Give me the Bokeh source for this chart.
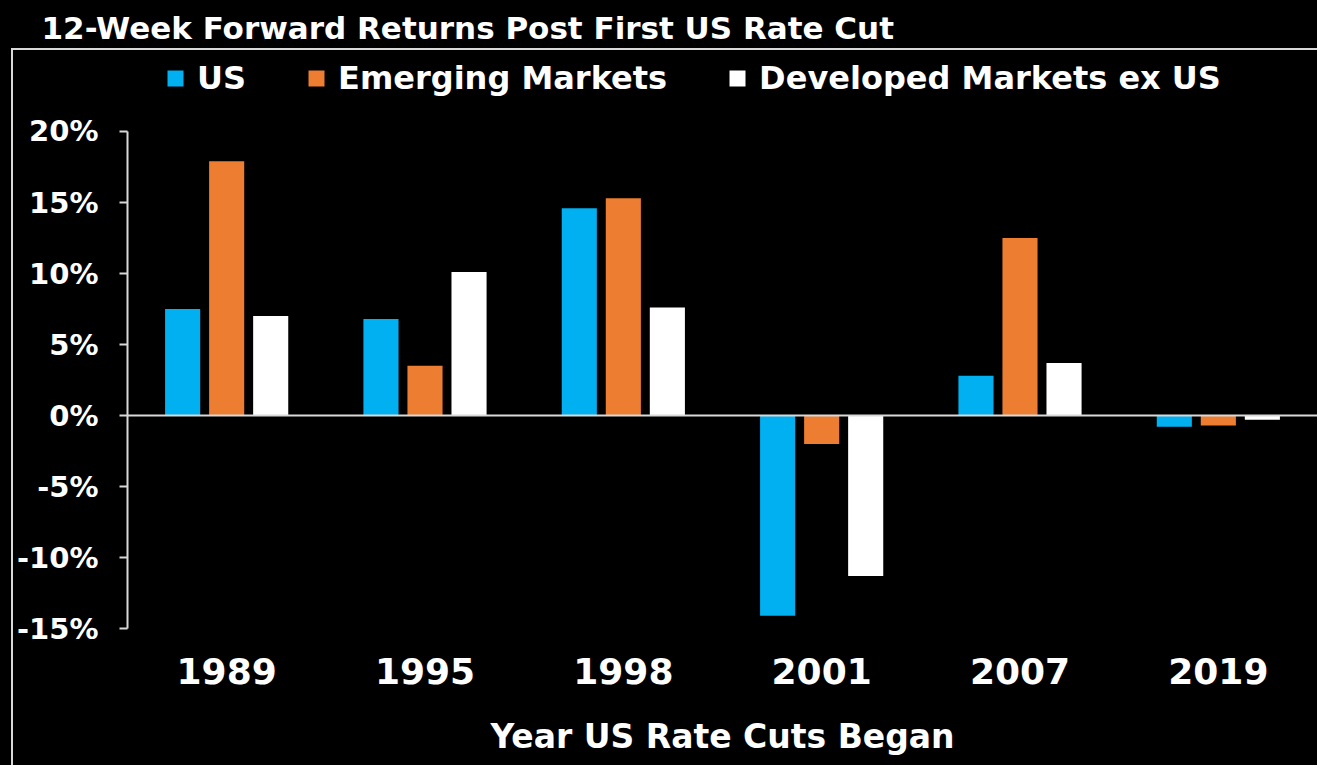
from bokeh.plotting import figure
from bokeh.models import (ColumnDataSource, FactorRange, Range1d, FixedTicker,
                          PrintfTickFormatter, Span, Legend, LegendItem)
from bokeh.transform import dodge
from bokeh.embed import file_html
from bokeh.resources import INLINE

# ---- data (percent returns, 12 weeks after first US rate cut) ----
years = ["1989", "1995", "1998", "2001", "2007", "2019"]
us_returns = [7.5, 6.8, 14.6, -14.1, 2.8, -0.8]
em_returns = [17.9, 3.5, 15.3, -2.0, 12.5, -0.7]
dm_returns = [7.0, 10.1, 7.6, -11.3, 3.7, -0.3]
series_names = ["US", "Emerging Markets", "Developed Markets ex US"]
y_ticks = [-15, -10, -5, 0, 5, 10, 15, 20]

FONT = "DejaVu Sans"
AXIS_GREY = "#d9d9d9"
colors = ["#00B0F0", "#ED7D31", "#FFFFFF"]

src = ColumnDataSource(dict(year=years, us=us_returns, em=em_returns, dm=dm_returns))

p = figure(
    x_range=FactorRange(*years, range_padding=0),
    y_range=Range1d(-15.563, 25.845),
    width=1317, height=765,
    output_backend="svg", toolbar_location=None,
    min_border_left=127, min_border_right=0,
    min_border_top=48, min_border_bottom=129,
    background_fill_alpha=0, border_fill_alpha=0,
    outline_line_color=None,
)

# outer frame lines (top + left), drawn behind the transparent canvas
p.styles = {
    "background-color": "#000000",
    "background-image": "linear-gradient(#d9d9d9, #d9d9d9), linear-gradient(#d9d9d9, #d9d9d9)",
    "background-size": "calc(100% - 11px) 2px, 2px calc(100% - 48px)",
    "background-position": "11px 48px, 11px 48px",
    "background-repeat": "no-repeat",
}

# title
p.title.text = "12-Week Forward Returns Post First US Rate Cut"
p.title.text_font = FONT
p.title.text_font_size = "31px"
p.title.text_font_style = "bold"
p.title.text_color = "#ffffff"
p.title.align = "left"
p.title.offset = -86
p.title.standoff = 6

# bars
offsets = [-0.222, 0.0, 0.222]
cols = ["us", "em", "dm"]
renderers = []
for off, col, c in zip(offsets, cols, colors):
    r = p.vbar(x=dodge("year", off, range=p.x_range), top=col, width=0.177,
               source=src, fill_color=c, line_color=None)
    renderers.append(r)

# zero line
p.add_layout(Span(location=0, dimension="width", line_color=AXIS_GREY, line_width=2))

# legend
legend = Legend(
    items=[LegendItem(label=n, renderers=[r]) for n, r in zip(series_names, renderers)],
    location=(38, 539), orientation="horizontal",
    glyph_width=20, glyph_height=20, label_standoff=12, spacing=60,
    padding=0, margin=0, border_line_color=None, background_fill_alpha=0,
    label_text_font=FONT, label_text_font_size="32px", label_text_font_style="bold",
    label_text_color="#ffffff",
)
p.add_layout(legend)

# grids
p.xgrid.visible = False
p.ygrid.visible = False

# y axis
ya = p.yaxis[0]
ya.ticker = FixedTicker(ticks=y_ticks)
ya.formatter = PrintfTickFormatter(format="%d%%")
ya.bounds = (-15, 20)
ya.axis_line_color = AXIS_GREY
ya.axis_line_width = 2
ya.major_tick_line_color = AXIS_GREY
ya.major_tick_line_width = 2
ya.major_tick_out = 8
ya.major_tick_in = 0
ya.minor_tick_line_color = None
ya.major_label_standoff = 21
ya.major_label_text_font = FONT
ya.major_label_text_font_size = "29px"
ya.major_label_text_font_style = "bold"
ya.major_label_text_color = "#ffffff"

# x axis
xa = p.xaxis[0]
xa.axis_line_color = None
xa.major_tick_line_color = None
xa.minor_tick_line_color = None
xa.major_label_standoff = 15
xa.major_label_text_font = FONT
xa.major_label_text_font_size = "36px"
xa.major_label_text_font_style = "bold"
xa.major_label_text_color = "#ffffff"
xa.axis_label = "Year US Rate Cuts Began"
xa.axis_label_standoff = 30
xa.axis_label_text_font = FONT
xa.axis_label_text_font_size = "33px"
xa.axis_label_text_font_style = "bold"
xa.axis_label_text_color = "#ffffff"

html = file_html(p, INLINE)
html = html.replace(
    "</head>",
    "<style>html, body { background-color: #000000; overflow: hidden; }</style></head>", 1)
open("out.html", "w").write(html)
